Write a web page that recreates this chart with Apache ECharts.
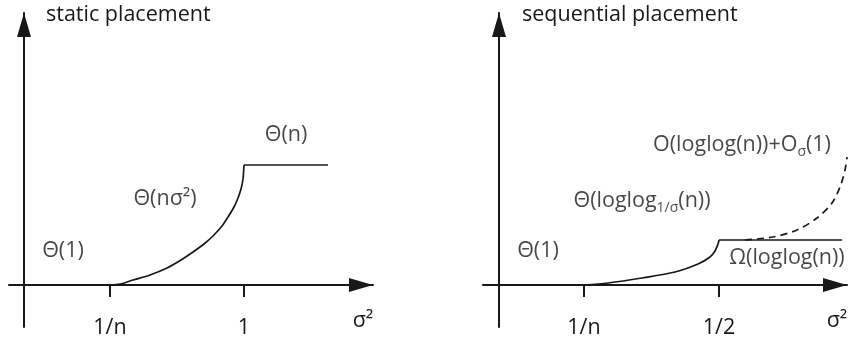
<!DOCTYPE html>
<html><head><meta charset="utf-8">
<script src="https://cdn.jsdelivr.net/npm/echarts@6/dist/echarts.min.js"></script>
<style>html,body{margin:0;padding:0;background:#fff}#c{width:850px;height:338px}</style>
</head><body><div id="c"></div>
<script>
// ---- data (schematic units: origin at the axes' crossing) ----
const panelTitles = ['static placement', 'sequential placement'];
const xAxisName = 'σ²';
const leftTickValues = [86, 220];
const leftTickLabels = ['1/n', '1'];
const rightTickValues = [85, 220];
const rightTickLabels = ['1/n', '1/2'];

// static placement: Θ(nσ²) rise then Θ(n) plateau
const leftCurve = [[86,0],[96,1],[109,5],[126,10],[143,17],[157,25],[169,33],[180,41],[189,49],[198,59],[204,68],[210,78],[214,87],[217,96],[219,106],[220,120]];
const leftPlateau = [[220,120],[304,120]];

// sequential placement: solid rise, Ω plateau, dashed upper bound
const rightCurve = [[85,0],[109,2],[143,7],[176,13],[199,21],[211,28],[216,34],[219,41],[220,45]];
const rightPlateau = [[220,45],[343,45]];
const rightDashed = [[246,45],[274,48],[298,55],[318,67],[333,82],[341,98],[346,115],[348,128]];

// annotation labels [x, y, text]
const leftNotes = [
  [262, 150, '{m|Θ(n)}'],
  [141, 86, '{m|Θ(nσ²)}'],
  [39, 34, '{m|Θ(1)}']
];
const rightNotes = [
  [243, 140, '{m|O(loglog(n))+O}{s|σ}{m|(1)}'],
  [143, 84, '{m|Θ(loglog}{s|1/σ}{m|(n))}'],
  [39, 34, '{m|Θ(1)}'],
  [288, 27, '{m|Ω(loglog(n))}']
];

// ---- styling ----
const INK = '#1a1718';
const FONT = '"Open Sans", sans-serif';
const FS = 21.5;

function xAxisFor(gridIndex, min, max, ticks, labels) {
  return {
    type: 'value', gridIndex, min, max,
    name: xAxisName, nameLocation: 'end', nameGap: -10,
    nameTextStyle: { color: INK, fontFamily: FONT, fontSize: FS, align: 'center', verticalAlign: 'top', padding: [25, 0, 0, 0] },
    axisLine: { onZero: true, symbol: ['none', 'triangle'], symbolSize: [14, 24], symbolOffset: [0, -12], lineStyle: { color: INK, width: 2 } },
    axisTick: { show: true, customValues: ticks, length: 12, inside: false, lineStyle: { color: INK, width: 2 } },
    axisLabel: { show: true, customValues: ticks, margin: -10, color: INK, fontFamily: FONT, fontSize: FS,
      formatter: v => { const i = ticks.indexOf(v); return i >= 0 ? labels[i] : ''; } },
    splitLine: { show: false }
  };
}
function yAxisFor(gridIndex) {
  return {
    type: 'value', gridIndex, min: -42, max: 272,
    axisLine: { onZero: true, symbol: ['none', 'triangle'], symbolSize: [14, 24], symbolOffset: [0, -12], lineStyle: { color: INK, width: 2 } },
    axisTick: { show: false }, axisLabel: { show: false }, splitLine: { show: false }
  };
}
function lineSeries(idx, data, dashed) {
  return {
    type: 'line', xAxisIndex: idx, yAxisIndex: idx, data, showSymbol: false, symbol: 'none',
    smooth: 0.3,
    lineStyle: { color: INK, width: 1.7, type: dashed ? [7, 5] : 'solid' }, z: 3
  };
}
function noteSeries(idx, notes) {
  return {
    type: 'scatter', xAxisIndex: idx, yAxisIndex: idx, symbolSize: 0, z: 5,
    itemStyle: { color: 'transparent' },
    data: notes.map(n => ({ value: [n[0], n[1]], label: { formatter: n[2] } })),
    label: {
      show: true, position: 'inside',
      rich: {
        m: { fontFamily: FONT, fontSize: FS, color: INK, lineHeight: 28 },
        s: { fontFamily: FONT, fontSize: 14, color: INK, verticalAlign: 'bottom' }
      }
    }
  };
}

const chart = echarts.init(document.getElementById('c'), null, { renderer: 'canvas' });
chart.setOption({
  animation: false,
  backgroundColor: '#fff',
  title: [
    { text: panelTitles[0], left: 41, top: -1, textStyle: { color: INK, fontFamily: FONT, fontSize: FS, fontWeight: 'normal' } },
    { text: panelTitles[1], left: 517, top: -1, textStyle: { color: INK, fontFamily: FONT, fontSize: FS, fontWeight: 'normal' } }
  ],
  grid: [
    { left: 9, right: 477, top: 13, bottom: 11, containLabel: false, outerBoundsMode: 'none' },
    { left: 483, right: 3, top: 13, bottom: 11, containLabel: false, outerBoundsMode: 'none' }
  ],
  xAxis: [
    xAxisFor(0, -15, 349, leftTickValues, leftTickLabels),
    xAxisFor(1, -16, 348, rightTickValues, rightTickLabels)
  ],
  yAxis: [yAxisFor(0), yAxisFor(1)],
  series: [
    lineSeries(0, leftCurve), lineSeries(0, leftPlateau),
    lineSeries(1, rightCurve), lineSeries(1, rightPlateau), lineSeries(1, rightDashed, true),
    noteSeries(0, leftNotes), noteSeries(1, rightNotes)
  ]
});
</script></body></html>
